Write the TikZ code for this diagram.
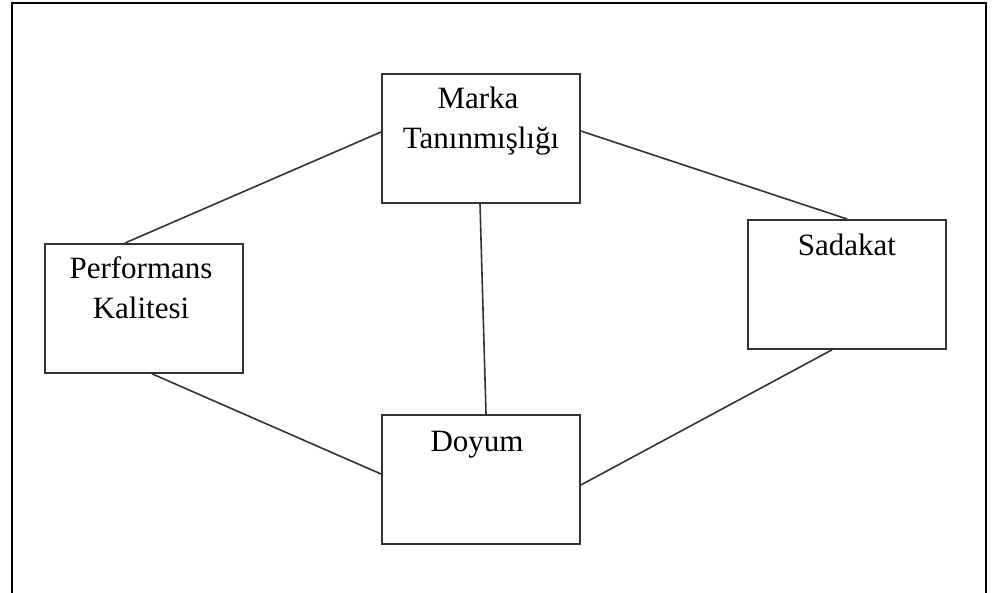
\documentclass[tikz,border=0pt]{standalone}
\usepackage{fontspec}
\setmainfont{Liberation Serif}
\begin{document}
\begin{tikzpicture}[x=1pt,y=-1pt,
  box/.style={draw=black!80,line width=1.8pt,minimum width=198pt,minimum height=129pt,inner sep=0pt,anchor=north west},
  lbl/.style={anchor=base,inner sep=0pt,font=\fontsize{31}{40}\selectfont},
  link/.style={draw=black!80,line width=1.6pt},
  frame/.style={draw=black,line width=2.8pt}]
\useasboundingbox (0,0) rectangle (995,592);
% outer frame (bottom edge lies outside the picture)
\coordinate (fbl) at (12,600);
\coordinate (ftl) at (12,3);
\coordinate (ftr) at (986,3);
\coordinate (fbr) at (986,600);
\begin{scope}
\clip (0,0) rectangle (995,592);
\draw[frame] (fbl) -- (ftl) -- (ftr) -- (fbr);
\end{scope}
% boxes
\node[box] (mk) at (381,73) {};
\node[box] (pk) at (44,243) {};
\node[box] (sd) at (747,219) {};
\node[box] (dy) at (381,414) {};
% labels
\node[lbl] (mk1) at (478,108) {Marka};
\node[lbl] (mk2) at (481,148) {Tanınmışlığı};
\node[lbl] (pk1) at (141,278) {Performans};
\node[lbl] (pk2) at (141,318) {Kalitesi};
\node[lbl] (sd1) at (847,255) {Sadakat};
\node[lbl] (dy1) at (477,451) {Doyum};
% connectors
\draw[link] (mk.west |- 0,132) -- (125,0 |- pk.north);
\draw[link] (mk.east |- 0,131) -- (847,0 |- sd.north);
\draw[link] (480,0 |- mk.south) -- (486,0 |- dy.north);
\draw[link] (152,0 |- pk.south) -- (dy.west |- 0,474);
\draw[link] (832,0 |- sd.south) -- (dy.east |- 0,485);
\end{tikzpicture}
\end{document}
